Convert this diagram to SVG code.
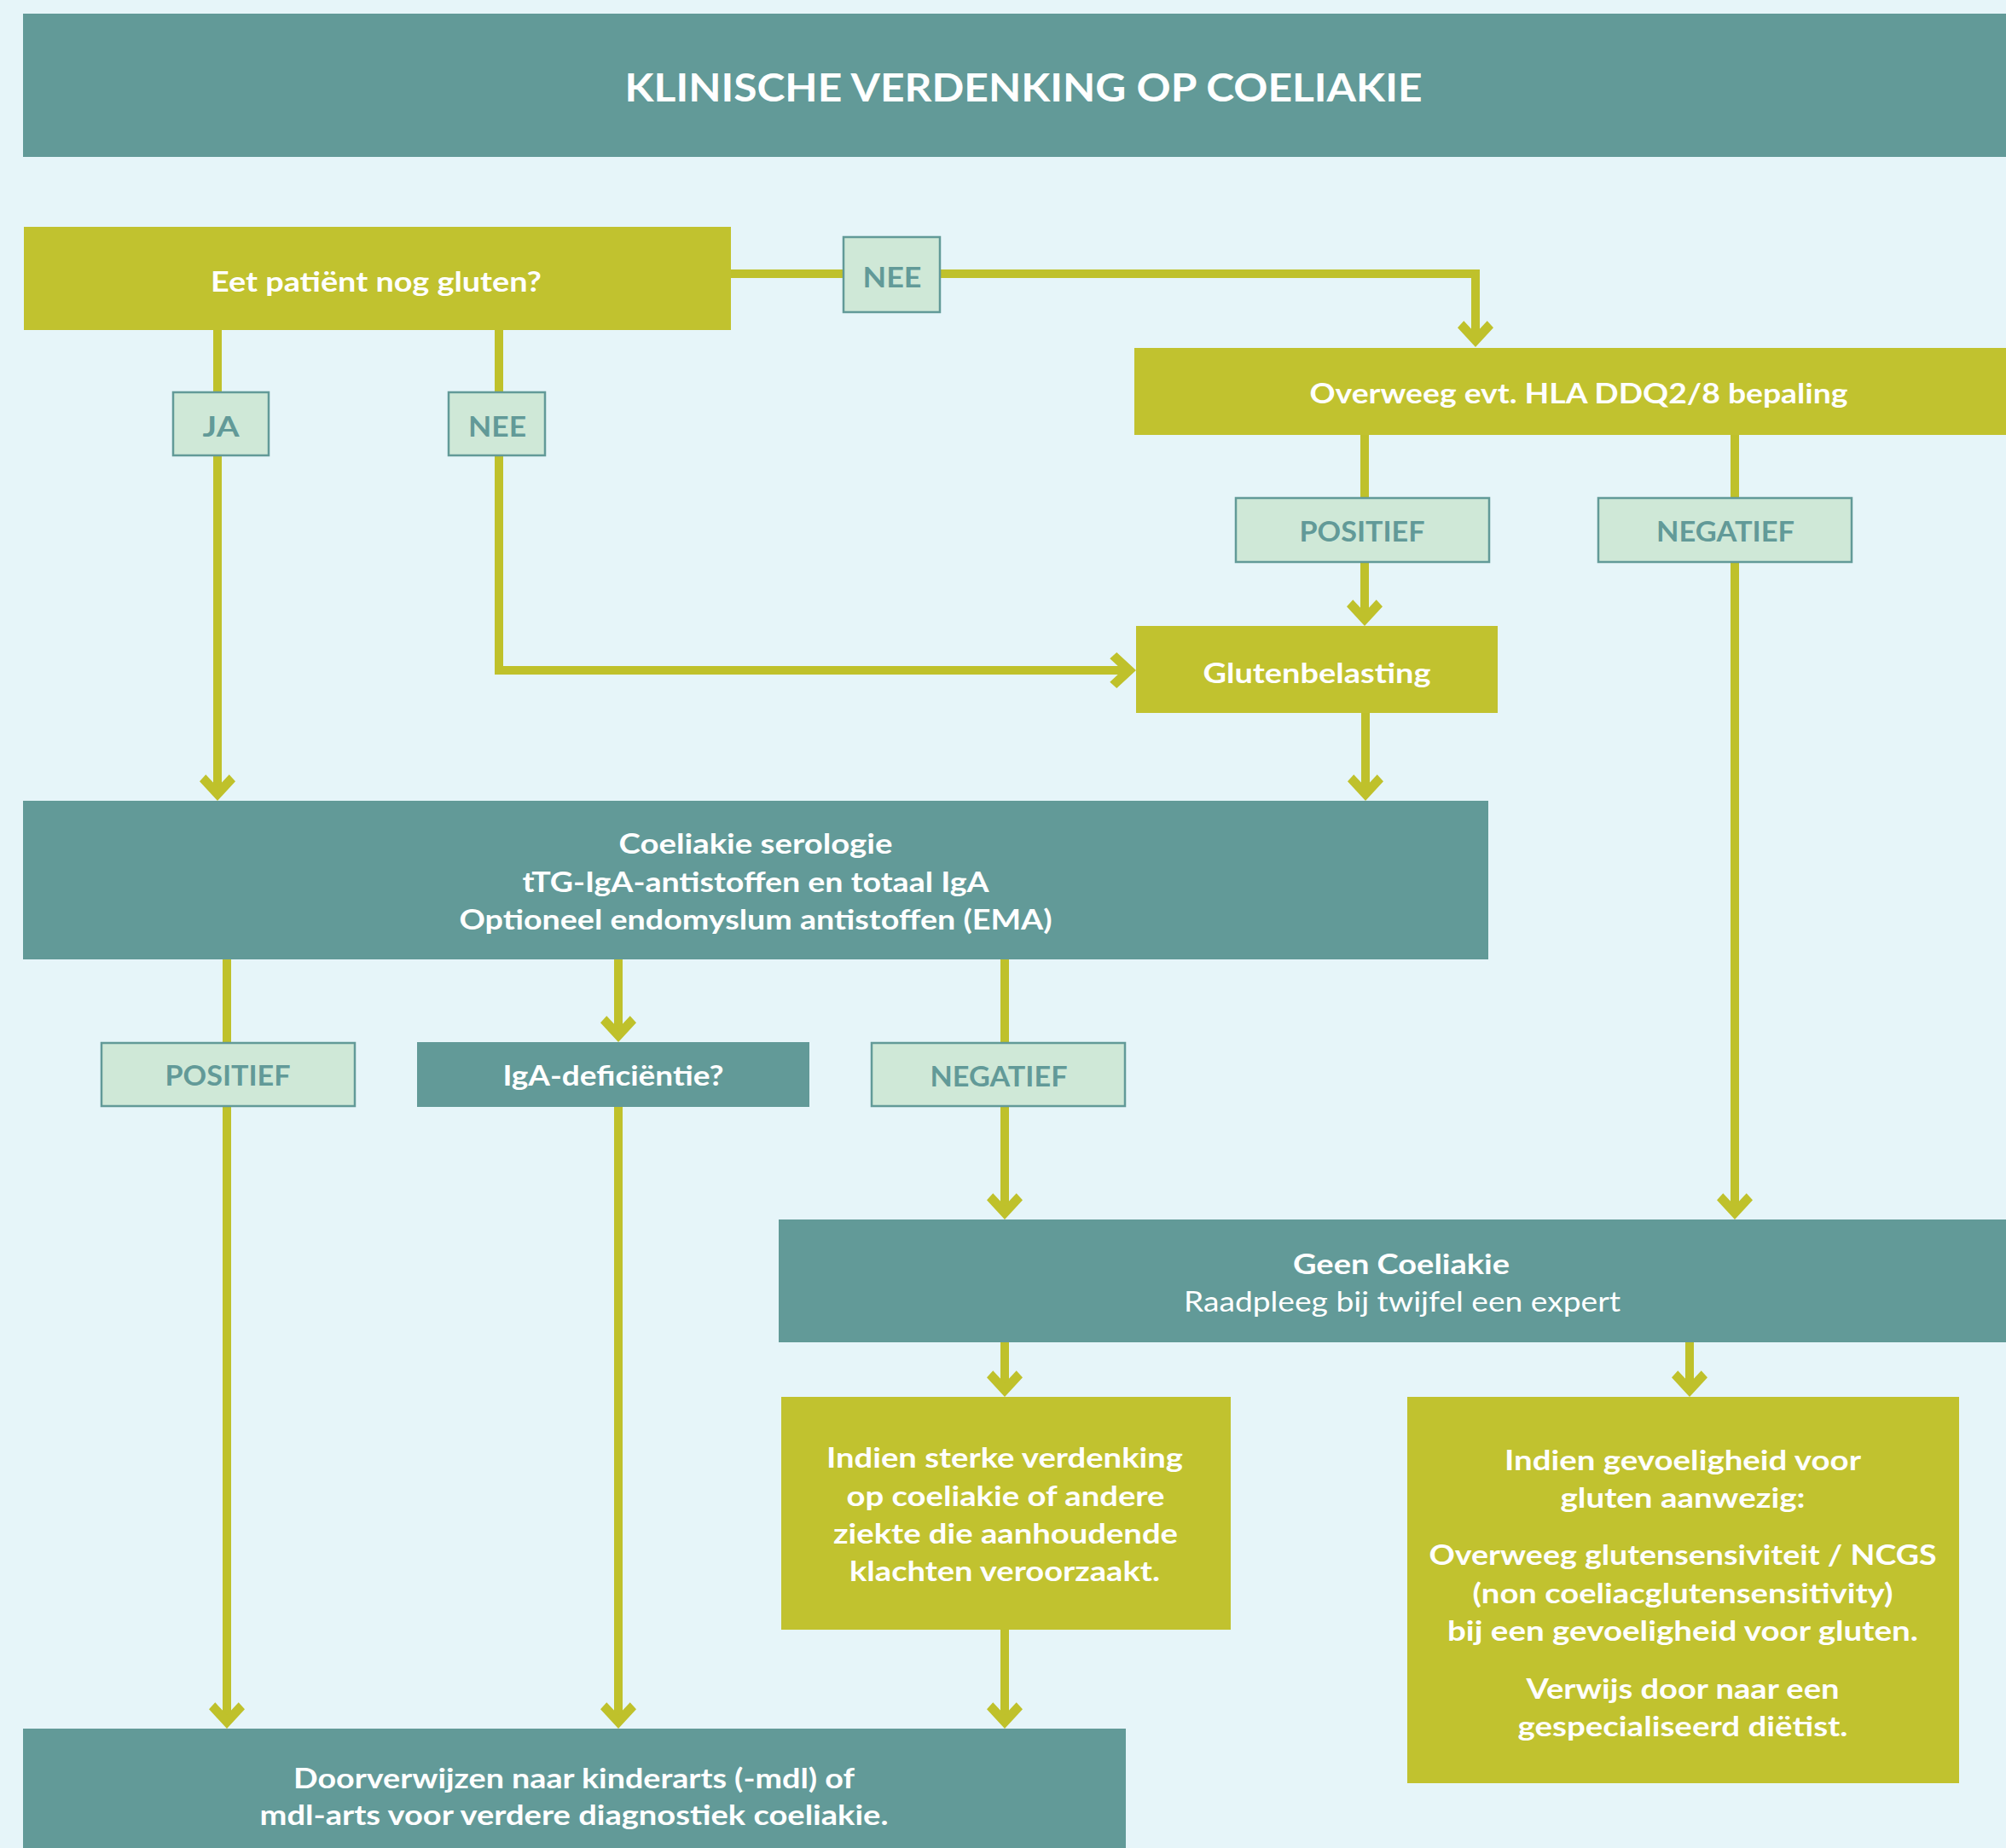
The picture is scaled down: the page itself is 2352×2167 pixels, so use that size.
<svg xmlns="http://www.w3.org/2000/svg" width="2352" height="2167" viewBox="0 0 2352 2167">
<style>
.bg{fill:#E6F5F9}
.teal{fill:#629A98}
.olive{fill:#C1C22F}
.lab{fill:#CFE8D7;stroke:#629A98;stroke-width:2.5}
.t{font-family:Lato,"Liberation Sans",sans-serif;font-weight:700;font-size:33px;fill:#FFFFFF;text-anchor:middle}
.tr{font-family:Lato,"Liberation Sans",sans-serif;font-weight:400;font-size:33px;fill:#FFFFFF;text-anchor:middle}
.lt{font-family:Lato,"Liberation Sans",sans-serif;font-weight:700;font-size:32px;fill:#629A98;text-anchor:middle}
.title{font-family:Lato,"Liberation Sans",sans-serif;font-weight:700;font-size:46px;fill:#FFFFFF;text-anchor:middle}
.c{fill:none;stroke:#BFC12B;stroke-width:10;stroke-linejoin:miter;marker-end:url(#arr)}
.cn{fill:none;stroke:#BFC12B;stroke-width:10;stroke-linejoin:miter}
</style>
<defs>
<marker id="arr" viewBox="-20 -22 33 44" markerWidth="33" markerHeight="44" refX="0" refY="0" orient="auto" markerUnits="userSpaceOnUse">
<polygon points="12,0 -10.7,-21 -18.7,-13.7 -3.9,0 -18.7,13.7 -10.7,21" fill="#BFC12B"/>
</marker>
</defs>
<rect class="bg" x="0" y="0" width="2352" height="2167"/>

<g id="connectors">
<path class="c" d="M857,321 H1730 V395"/>
<path class="c" d="M255,387 V927"/>
<path class="c" d="M585,387 V786 H1320"/>
<path class="c" d="M1600,510 V722"/>
<path class="c" d="M2034,510 V1418"/>
<path class="c" d="M1601,836 V927"/>
<path class="c" d="M266,1125 V2015"/>
<path class="c" d="M725,1125 V1210"/>
<path class="c" d="M725,1298 V2015"/>
<path class="c" d="M1178,1125 V1418"/>
<path class="c" d="M1178,1574 V1626"/>
<path class="c" d="M1981,1574 V1626"/>
<path class="c" d="M1178,1911 V2015"/>
</g>

<g id="labels">
<g id="lbl-nee-top"><rect class="lab" x="989" y="278" width="113" height="88"/><text class="lt" x="1046" y="337" textLength="69" lengthAdjust="spacingAndGlyphs">NEE</text></g>
<g id="lbl-ja"><rect class="lab" x="203" y="460" width="112" height="74"/><text class="lt" x="259" y="512" textLength="43" lengthAdjust="spacingAndGlyphs">JA</text></g>
<g id="lbl-nee-left"><rect class="lab" x="526" y="460" width="113" height="74"/><text class="lt" x="583" y="512" textLength="68" lengthAdjust="spacingAndGlyphs">NEE</text></g>
<g id="lbl-pos-top"><rect class="lab" x="1449" y="584" width="297" height="75"/><text class="lt" x="1597" y="635" textLength="147" lengthAdjust="spacingAndGlyphs">POSITIEF</text></g>
<g id="lbl-neg-top"><rect class="lab" x="1874" y="584" width="297" height="75"/><text class="lt" x="2023" y="635" textLength="162" lengthAdjust="spacingAndGlyphs">NEGATIEF</text></g>
<g id="lbl-pos-left"><rect class="lab" x="119" y="1223" width="297" height="74"/><text class="lt" x="267" y="1273" textLength="147" lengthAdjust="spacingAndGlyphs">POSITIEF</text></g>
<g id="lbl-neg-left"><rect class="lab" x="1022" y="1223" width="297" height="74"/><text class="lt" x="1171" y="1274" textLength="161" lengthAdjust="spacingAndGlyphs">NEGATIEF</text></g>
</g>

<g id="title"><rect class="teal" x="27" y="16" width="2325" height="168"/><text class="title" x="1200" y="119" textLength="935" lengthAdjust="spacingAndGlyphs">KLINISCHE VERDENKING OP COELIAKIE</text></g>

<g id="eet"><rect class="olive" x="28" y="266" width="829" height="121"/><text class="t" x="441" y="342" textLength="388" lengthAdjust="spacingAndGlyphs">Eet patiënt nog gluten?</text></g>

<g id="overweeg"><rect class="olive" x="1330" y="408" width="1022" height="102"/><text class="t" x="1851" y="473" textLength="631" lengthAdjust="spacingAndGlyphs">Overweeg evt. HLA DDQ2/8 bepaling</text></g>

<g id="glutenbelasting"><rect class="olive" x="1332" y="734" width="424" height="102"/><text class="t" x="1544" y="801" textLength="267" lengthAdjust="spacingAndGlyphs">Glutenbelasting</text></g>

<g id="serologie"><rect class="teal" x="27" y="939" width="1718" height="186"/>
<text class="t" x="886" y="1001" textLength="321" lengthAdjust="spacingAndGlyphs">Coeliakie serologie</text>
<text class="t" x="886" y="1046" textLength="547" lengthAdjust="spacingAndGlyphs">tTG-IgA-antistoffen en totaal IgA</text>
<text class="t" x="886" y="1090" textLength="695" lengthAdjust="spacingAndGlyphs">Optioneel endomyslum antistoffen (EMA)</text>
</g>

<g id="iga"><rect class="teal" x="489" y="1222" width="460" height="76"/><text class="t" x="719" y="1273" textLength="259" lengthAdjust="spacingAndGlyphs">IgA-deficiëntie?</text></g>

<g id="geen"><rect class="teal" x="913" y="1430" width="1439" height="144"/>
<text class="t" x="1643" y="1494" textLength="254" lengthAdjust="spacingAndGlyphs">Geen Coeliakie</text>
<text class="tr" x="1644" y="1538" textLength="512" lengthAdjust="spacingAndGlyphs">Raadpleeg bij twijfel een expert</text>
</g>

<g id="sterk"><rect class="olive" x="916" y="1638" width="527" height="273"/>
<text class="t" x="1178" y="1721" textLength="418" lengthAdjust="spacingAndGlyphs">Indien sterke verdenking</text>
<text class="t" x="1179" y="1766" textLength="373" lengthAdjust="spacingAndGlyphs">op coeliakie of andere</text>
<text class="t" x="1179" y="1810" textLength="404" lengthAdjust="spacingAndGlyphs">ziekte die aanhoudende</text>
<text class="t" x="1178" y="1854" textLength="364" lengthAdjust="spacingAndGlyphs">klachten veroorzaakt.</text>
</g>

<g id="gevoelig"><rect class="olive" x="1650" y="1638" width="647" height="453"/>
<text class="t" x="1973" y="1724" textLength="418" lengthAdjust="spacingAndGlyphs">Indien gevoeligheid voor</text>
<text class="t" x="1973" y="1768" textLength="287" lengthAdjust="spacingAndGlyphs">gluten aanwezig:</text>
<text class="t" x="1973" y="1835" textLength="595" lengthAdjust="spacingAndGlyphs">Overweeg glutensensiviteit / NCGS</text>
<text class="t" x="1973" y="1880" textLength="493" lengthAdjust="spacingAndGlyphs">(non coeliacglutensensitivity)</text>
<text class="t" x="1973" y="1924" textLength="552" lengthAdjust="spacingAndGlyphs">bij een gevoeligheid voor gluten.</text>
<text class="t" x="1973" y="1992" textLength="367" lengthAdjust="spacingAndGlyphs">Verwijs door naar een</text>
<text class="t" x="1973" y="2036" textLength="387" lengthAdjust="spacingAndGlyphs">gespecialiseerd diëtist.</text>
</g>

<g id="doorverwijzen"><rect class="teal" x="27" y="2027" width="1293" height="140"/>
<text class="t" x="673" y="2097" textLength="658" lengthAdjust="spacingAndGlyphs">Doorverwijzen naar kinderarts (-mdl) of</text>
<text class="t" x="673" y="2140" textLength="737" lengthAdjust="spacingAndGlyphs">mdl-arts voor verdere diagnostiek coeliakie.</text>
</g>
</svg>
